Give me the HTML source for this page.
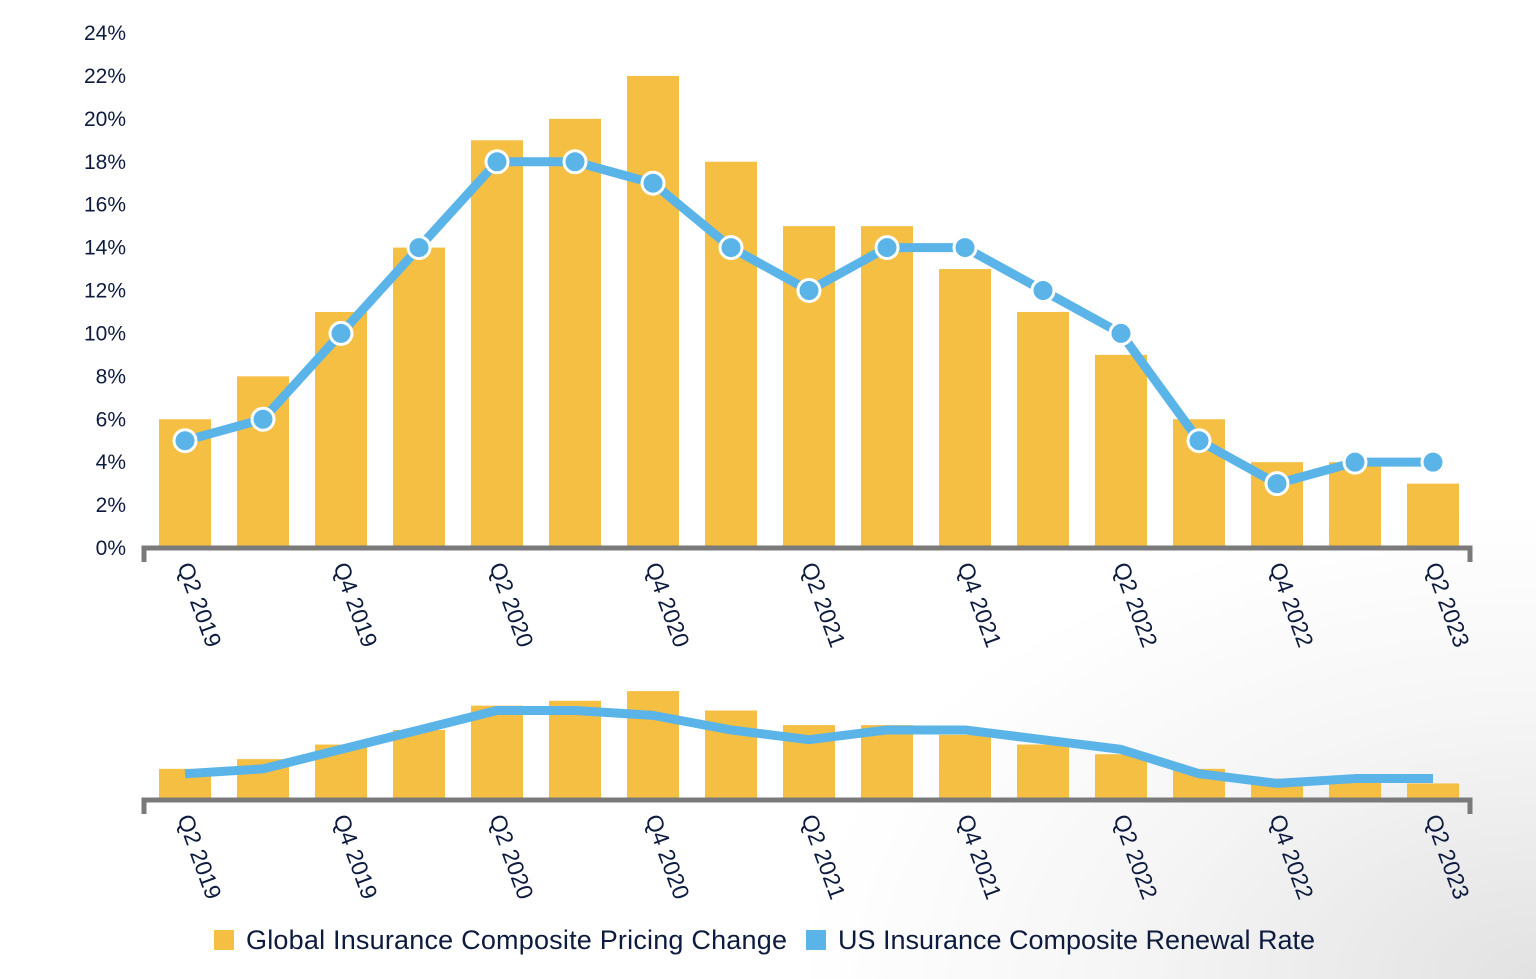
<!DOCTYPE html>
<html><head><meta charset="utf-8"><style>
html,body{margin:0;padding:0;width:1536px;height:979px;overflow:hidden;background:#fff}
svg{display:block;font-family:"Liberation Sans",sans-serif}
</style></head><body>
<svg id="c" width="1536" height="979">
<defs><radialGradient id="bg" cx="1" cy="1" r="0.8"><stop offset="0" stop-color="#e2e2e2"/><stop offset="0.35" stop-color="#f6f6f6"/><stop offset="0.6" stop-color="#fff"/></radialGradient></defs>
<rect width="1536" height="979" fill="url(#bg)"/>
<g id="main"></g>
<g id="nav"></g>
<g font-size="27" fill="#0d1b3e">
<rect x="214" y="930" width="20" height="20" fill="#f4bf42"/>
<text x="246" y="949" textLength="541">Global Insurance Composite Pricing Change</text>
<rect x="806" y="930" width="20" height="20" fill="#5bb4e8"/>
<text x="838" y="949" textLength="477">US Insurance Composite Renewal Rate</text>
</g>
</svg>
<script>
const categories=["Q2 2019","Q3 2019","Q4 2019","Q1 2020","Q2 2020","Q3 2020","Q4 2020","Q1 2021","Q2 2021","Q3 2021","Q4 2021","Q1 2022","Q2 2022","Q3 2022","Q4 2022","Q1 2023","Q2 2023"];
const globalPricing=[6,8,11,14,19,20,22,18,15,15,13,11,9,6,4,4,3];
const usRenewal=[5,6,10,14,18,18,17,14,12,14,14,12,10,5,3,4,4];
const yTicks=[0,2,4,6,8,10,12,14,16,18,20,22,24];
const NS="http://www.w3.org/2000/svg";
function mk(p,t,a){const e=document.createElementNS(NS,t);for(const k in a)e.setAttribute(k,a[k]);p.appendChild(e);return e;}
const x=i=>185+i*78;
const yMain=v=>548-v*(515/24);
const yNav=v=>798-v*4.86;
const main=document.getElementById('main'), nav=document.getElementById('nav');
yTicks.forEach(t=>{const e=mk(main,'text',{x:126,y:yMain(t)+7,'text-anchor':'end','font-size':21,fill:'#0d1b3e'});e.textContent=t+'%';

});
function draw(g,y,base,markers,axisY,labelY){
 globalPricing.forEach((v,i)=>{const r=mk(g,'rect',{x:x(i)-26,y:y(v),width:52,height:base-y(v),fill:'#f4bf42'});
 
 });
 const pts=usRenewal.map((v,i)=>x(i)+','+y(v)).join(' ');
 const l=mk(g,'polyline',{points:pts,fill:'none',stroke:'#5bb4e8','stroke-width':9,'stroke-linejoin':'round'});
 
 
 if(markers)usRenewal.forEach((v,i)=>{const c=mk(g,'circle',{cx:x(i),cy:y(v),r:11,fill:'#5bb4e8',stroke:'#fff','stroke-width':3});
 
 });
 const a=mk(g,'path',{d:`M144,${axisY+14} V${axisY} H1470 V${axisY+14}`,fill:'none',stroke:'#7a7a7a','stroke-width':5});
 
 
 categories.forEach((c,i)=>{if(i%2)return;const tx=x(i)-8,ty=labelY;
 const e=mk(g,'text',{x:tx,y:ty,transform:`rotate(70 ${tx} ${ty})`,'font-size':23,fill:'#0d1b3e'});e.textContent=c;
 
 });
}
draw(main,yMain,548,true,548,566);
draw(nav,yNav,798,false,800,818);
</script>
</body></html>
